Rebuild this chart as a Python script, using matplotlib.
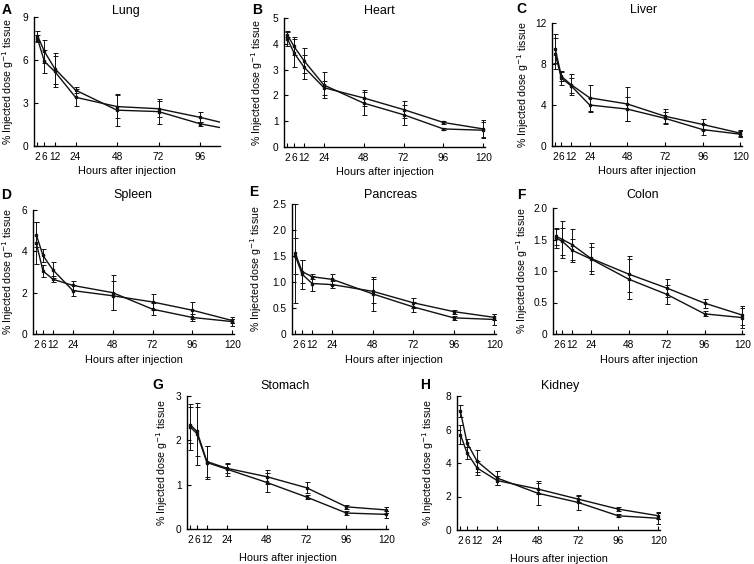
import numpy as np
import matplotlib
matplotlib.use('Agg')
import matplotlib.pyplot as plt

plt.rcParams['font.family'] = ['Liberation Sans', 'DejaVu Sans']

W, H = 754, 564

hours = [2, 6, 12, 24, 48, 72, 96, 120]

# two series per organ (values and SD)
lung_a = [7.7, 6.6, 5.4, 3.9, 2.5, 2.4, 1.55, 1.0]
lung_a_err = [0.35, 0.8, 1.1, 0.2, 1.1, 0.85, 0.15, 0.1]
lung_b = [7.5, 5.9, 5.2, 3.4, 2.75, 2.6, 2.0, 1.3]
lung_b_err = [0.25, 0.8, 1.1, 0.6, 0.8, 0.55, 0.35, 0.2]

heart_a = [4.35, 3.9, 3.35, 2.4, 1.7, 1.25, 0.7, 0.65]
heart_a_err = [0.1, 0.35, 0.5, 0.5, 0.45, 0.38, 0.05, 0.3]
heart_b = [4.2, 3.65, 3.1, 2.3, 1.9, 1.45, 0.95, 0.7]
heart_b_err = [0.3, 0.55, 0.45, 0.27, 0.3, 0.33, 0.05, 0.33]

liver_a = [9.5, 6.8, 6.0, 4.7, 4.1, 2.9, 2.1, 1.25]
liver_a_err = [1.4, 0.5, 1.0, 1.3, 1.65, 0.7, 0.55, 0.3]
liver_b = [9.0, 6.6, 5.9, 4.0, 3.6, 2.7, 1.6, 1.15]
liver_b_err = [1.5, 0.6, 0.7, 0.7, 1.2, 0.6, 0.5, 0.3]

spleen_a = [4.8, 3.8, 3.1, 2.1, 1.85, 1.55, 1.15, 0.65]
spleen_a_err = [0.6, 0.3, 0.4, 0.25, 0.7, 0.38, 0.4, 0.1]
spleen_b = [4.4, 3.05, 2.65, 2.35, 2.0, 1.2, 0.8, 0.6]
spleen_b_err = [1.0, 0.3, 0.15, 0.22, 0.85, 0.3, 0.15, 0.2]

pancreas_a = [1.55, 1.2, 1.1, 1.05, 0.77, 0.52, 0.31, 0.28]
pancreas_a_err = [0.95, 0.22, 0.05, 0.1, 0.32, 0.1, 0.04, 0.1]
pancreas_b = [1.5, 1.15, 0.97, 0.95, 0.82, 0.6, 0.43, 0.32]
pancreas_b_err = [0.35, 0.28, 0.14, 0.07, 0.23, 0.1, 0.04, 0.06]

colon_a = [1.55, 1.5, 1.42, 1.2, 0.95, 0.73, 0.49, 0.3]
colon_a_err = [0.13, 0.3, 0.24, 0.24, 0.29, 0.14, 0.07, 0.15]
colon_b = [1.52, 1.47, 1.33, 1.19, 0.87, 0.63, 0.32, 0.26]
colon_b_err = [0.15, 0.22, 0.18, 0.19, 0.32, 0.15, 0.04, 0.16]

stomach_a = [2.35, 2.2, 1.52, 1.37, 1.18, 0.93, 0.5, 0.43]
stomach_a_err = [0.4, 0.55, 0.35, 0.1, 0.16, 0.12, 0.04, 0.07]
stomach_b = [2.3, 2.15, 1.5, 1.35, 1.05, 0.72, 0.36, 0.33]
stomach_b_err = [0.52, 0.7, 0.37, 0.15, 0.22, 0.05, 0.04, 0.08]

kidney_a = [7.1, 5.2, 4.1, 3.1, 2.2, 1.65, 0.85, 0.7]
kidney_a_err = [0.35, 0.22, 0.65, 0.4, 0.7, 0.45, 0.1, 0.35]
kidney_b = [5.7, 4.6, 3.7, 2.95, 2.45, 1.85, 1.25, 0.85]
kidney_b_err = [0.55, 0.35, 0.4, 0.25, 0.33, 0.2, 0.1, 0.18]

# (letter, title, series, yticks, ytick labels, xmax)
panels = [
    ('A', 'Lung', lung_a, lung_a_err, lung_b, lung_b_err,
     [0, 3, 6, 9], ['0', '3', '6', '9'], 107.5),
    ('B', 'Heart', heart_a, heart_a_err, heart_b, heart_b_err,
     [0, 1, 2, 3, 4, 5], ['0', '1', '2', '3', '4', '5'], 121),
    ('C', 'Liver', liver_a, liver_a_err, liver_b, liver_b_err,
     [0, 4, 8, 12], ['0', '4', '8', '12'], 121),
    ('D', 'Spleen', spleen_a, spleen_a_err, spleen_b, spleen_b_err,
     [0, 2, 4, 6], ['0', '2', '4', '6'], 121),
    ('E', 'Pancreas', pancreas_a, pancreas_a_err, pancreas_b, pancreas_b_err,
     [0, 0.5, 1.0, 1.5, 2.0, 2.5], ['0', '0.5', '1.0', '1.5', '2.0', '2.5'], 121),
    ('F', 'Colon', colon_a, colon_a_err, colon_b, colon_b_err,
     [0, 0.5, 1.0, 1.5, 2.0], ['0', '0.5', '1.0', '1.5', '2.0'], 121),
    ('G', 'Stomach', stomach_a, stomach_a_err, stomach_b, stomach_b_err,
     [0, 1, 2, 3], ['0', '1', '2', '3'], 121),
    ('H', 'Kidney', kidney_a, kidney_a_err, kidney_b, kidney_b_err,
     [0, 2, 4, 6, 8], ['0', '2', '4', '6', '8'], 121),
]

# layout in pixels: axes box (left, top, right, bottom), title centre,
# letter centre, y-label offset from spine, x-label pad
boxes = [(34, 17, 220, 146), (284, 18, 485, 147), (552, 23, 742, 146),
         (33, 210, 234, 334), (292, 204, 496, 334), (553, 208, 744, 334),
         (187, 396, 388, 529), (457, 396, 660, 530)]
titles_xy = [(126, 11), (379, 11), (644, 10), (133, 195), (391, 195),
             (643, 195), (285, 386), (560, 386)]
letters_xy = [(7, 10), (257, 10), (521, 9), (6, 195), (254, 192),
              (521, 195), (158, 385), (425, 385)]
ylab_off = [-18, -19, -21, -17, -28, -23, -17, -21]
xlab_pad = [3, 3, 3, 4, 4, 4, 6, 6]

fig = plt.figure(figsize=(W / 100, H / 100), dpi=100)

for i, (letter, title, ya, ea, yb, eb, yt, ytl, xmax) in enumerate(panels):
    l, t, r, b = boxes[i]
    ax = fig.add_axes([l / W, 1 - b / H, (r - l) / W, (b - t) / H])
    for y, e in ((ya, ea), (yb, eb)):
        ax.errorbar(hours, y, yerr=e, color='#111111', lw=1.0,
                    elinewidth=0.7, capsize=1.8, capthick=0.7,
                    marker='s', ms=2.0)
    # ticks first: set_xticks would widen the limits to reach 120 otherwise
    xt = [h for h in hours if h <= xmax]
    ax.set_xticks(xt)
    ax.set_xticklabels([str(h) for h in xt])
    ax.set_yticks(yt)
    ax.set_yticklabels(ytl)
    ax.set_xlim(0, xmax)
    ax.set_ylim(0, yt[-1])
    ax.spines['top'].set_visible(False)
    ax.spines['right'].set_visible(False)
    ax.spines['left'].set_linewidth(1.0)
    ax.spines['bottom'].set_linewidth(1.0)
    ax.tick_params(direction='in', length=3, width=0.8, labelsize=7.3,
                   pad=4)
    ax.set_xlabel('Hours after injection', fontsize=7.8, labelpad=xlab_pad[i])
    ax.set_ylabel('% Injected dose g$^{-1}$ tissue', fontsize=7.6)
    ax.yaxis.set_label_coords(ylab_off[i] / (r - l), 0.5)
    tx, ty = titles_xy[i]
    fig.text(tx / W, 1 - ty / H, title, fontsize=9, ha='center', va='center')
    lx, ly = letters_xy[i]
    fig.text(lx / W, 1 - ly / H, letter, fontsize=10, weight='bold',
             ha='center', va='center')

fig.savefig('out.png', dpi=100, facecolor='white')
